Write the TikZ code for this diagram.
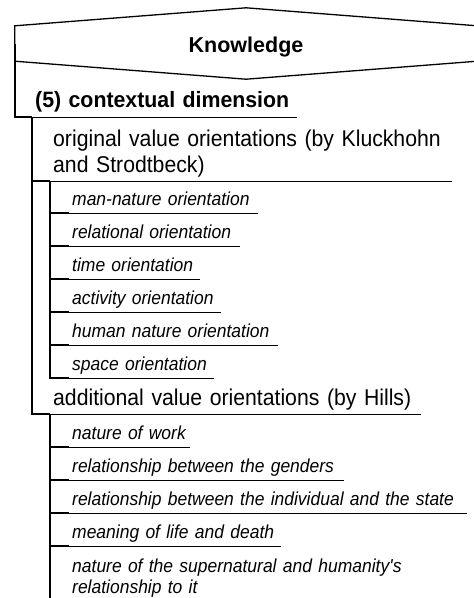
\documentclass[tikz,border=0pt]{standalone}
\usepackage{fontspec}
\setmainfont{Liberation Sans}
\newfontfamily\mainfam[FakeStretch=0.93]{Liberation Sans}
\newfontfamily\itemfam[FakeStretch=0.93]{Liberation Sans}
\newfontfamily\headfam[FakeStretch=0.96]{Liberation Sans}
\usetikzlibrary{calc}

% font sizes for the text levels
\newcommand\diagtitle{\fontsize{21.5}{26}\selectfont\bfseries}
\newcommand\diaghead{\headfam\fontsize{22.2}{27}\selectfont\bfseries}
\newcommand\diagmain{\mainfam\fontsize{22.8}{26.5}\selectfont}
\newcommand\diagitem{\itemfam\fontsize{18.8}{21}\selectfont\itshape}
% invisible strut that fixes the gap between last baseline and underline
\newcommand\ulgap[1]{\rule[-#1]{0pt}{1pt}}
\hyphenpenalty=10000
\exhyphenpenalty=10000

\begin{document}
\begin{tikzpicture}[x=1pt,y=-1pt,
  hexline/.style={line width=1.3pt, line join=miter},
  branch/.style={line width=2pt},
  under/.style={line width=1pt},
  entry/.style={anchor=south west, inner xsep=3pt, inner ysep=0pt, align=left,
    append after command={(\tikzlastnode.south west) edge[under] (\tikzlastnode.south east)}},
  head/.style={entry, font=\diaghead, execute at end node={\ulgap{9pt}}},
  group/.style={entry, font=\diagmain, execute at end node={\ulgap{8pt}}},
  item/.style={entry, font=\diagitem, execute at end node={\ulgap{7pt}}},
]
\useasboundingbox (0,0) rectangle (474,598);

% title hexagon
\node[minimum width=462pt, minimum height=35pt, inner sep=0pt,
      text height=17pt, text depth=0pt, font=\diagtitle] (know) at (246,43.5) {Knowledge};
\draw[hexline] (know.north west) -- ($(know.north)+(0,-18)$) -- (know.north east)
  -- (know.south east) -- ($(know.south)+(0,18)$) -- (know.south west) -- cycle;

% dimension
\node[head, text width=259pt] (dim) at (32,117) {(5) contextual dimension};

% first group
\node[group, text width=396pt] (orig) at (50,181) {original value orientations (by Kluckhohn and Strodtbeck)};
\node[item, text width=183pt] (k1) at (69,213) {man-nature orientation};
\node[item, text width=165pt] (k2) at (69,246) {relational orientation};
\node[item, text width=125pt] (k3) at (69,279) {time orientation};
\node[item, text width=146pt] (k4) at (69,312) {activity orientation};
\node[item, text width=203pt] (k5) at (69,345) {human nature orientation};
\node[item, text width=139pt] (k6) at (69,378) {space orientation};

% second group
\node[group, text width=365pt] (add) at (50,414) {additional value orientations (by Hills)};
\node[item, text width=115pt] (h1) at (69,447) {nature of work};
\node[item, text width=269pt] (h2) at (69,480) {relationship between the genders};
\node[item, text width=392pt] (h3) at (69,513) {relationship between the individual and the state};
\node[item, text width=206pt] (h4) at (69,546) {meaning of life and death};
\node[item, text width=345pt] (h5) at (69,601) {nature of the supernatural and humanity\textquotesingle s relationship to it};

% tree connectors
\draw[branch] (know.west) |- (dim.south west);
\draw[branch] (dim.south west) |- (orig.south west);
\draw[branch] (dim.south west) |- (add.south west);
\foreach \k in {k1,k2,k3,k4,k5,k6}
  \draw[branch] (orig.south west) |- (\k.south west);
\foreach \h in {h1,h2,h3,h4,h5}
  \draw[branch] (add.south west) |- (\h.south west);
\end{tikzpicture}
\end{document}
